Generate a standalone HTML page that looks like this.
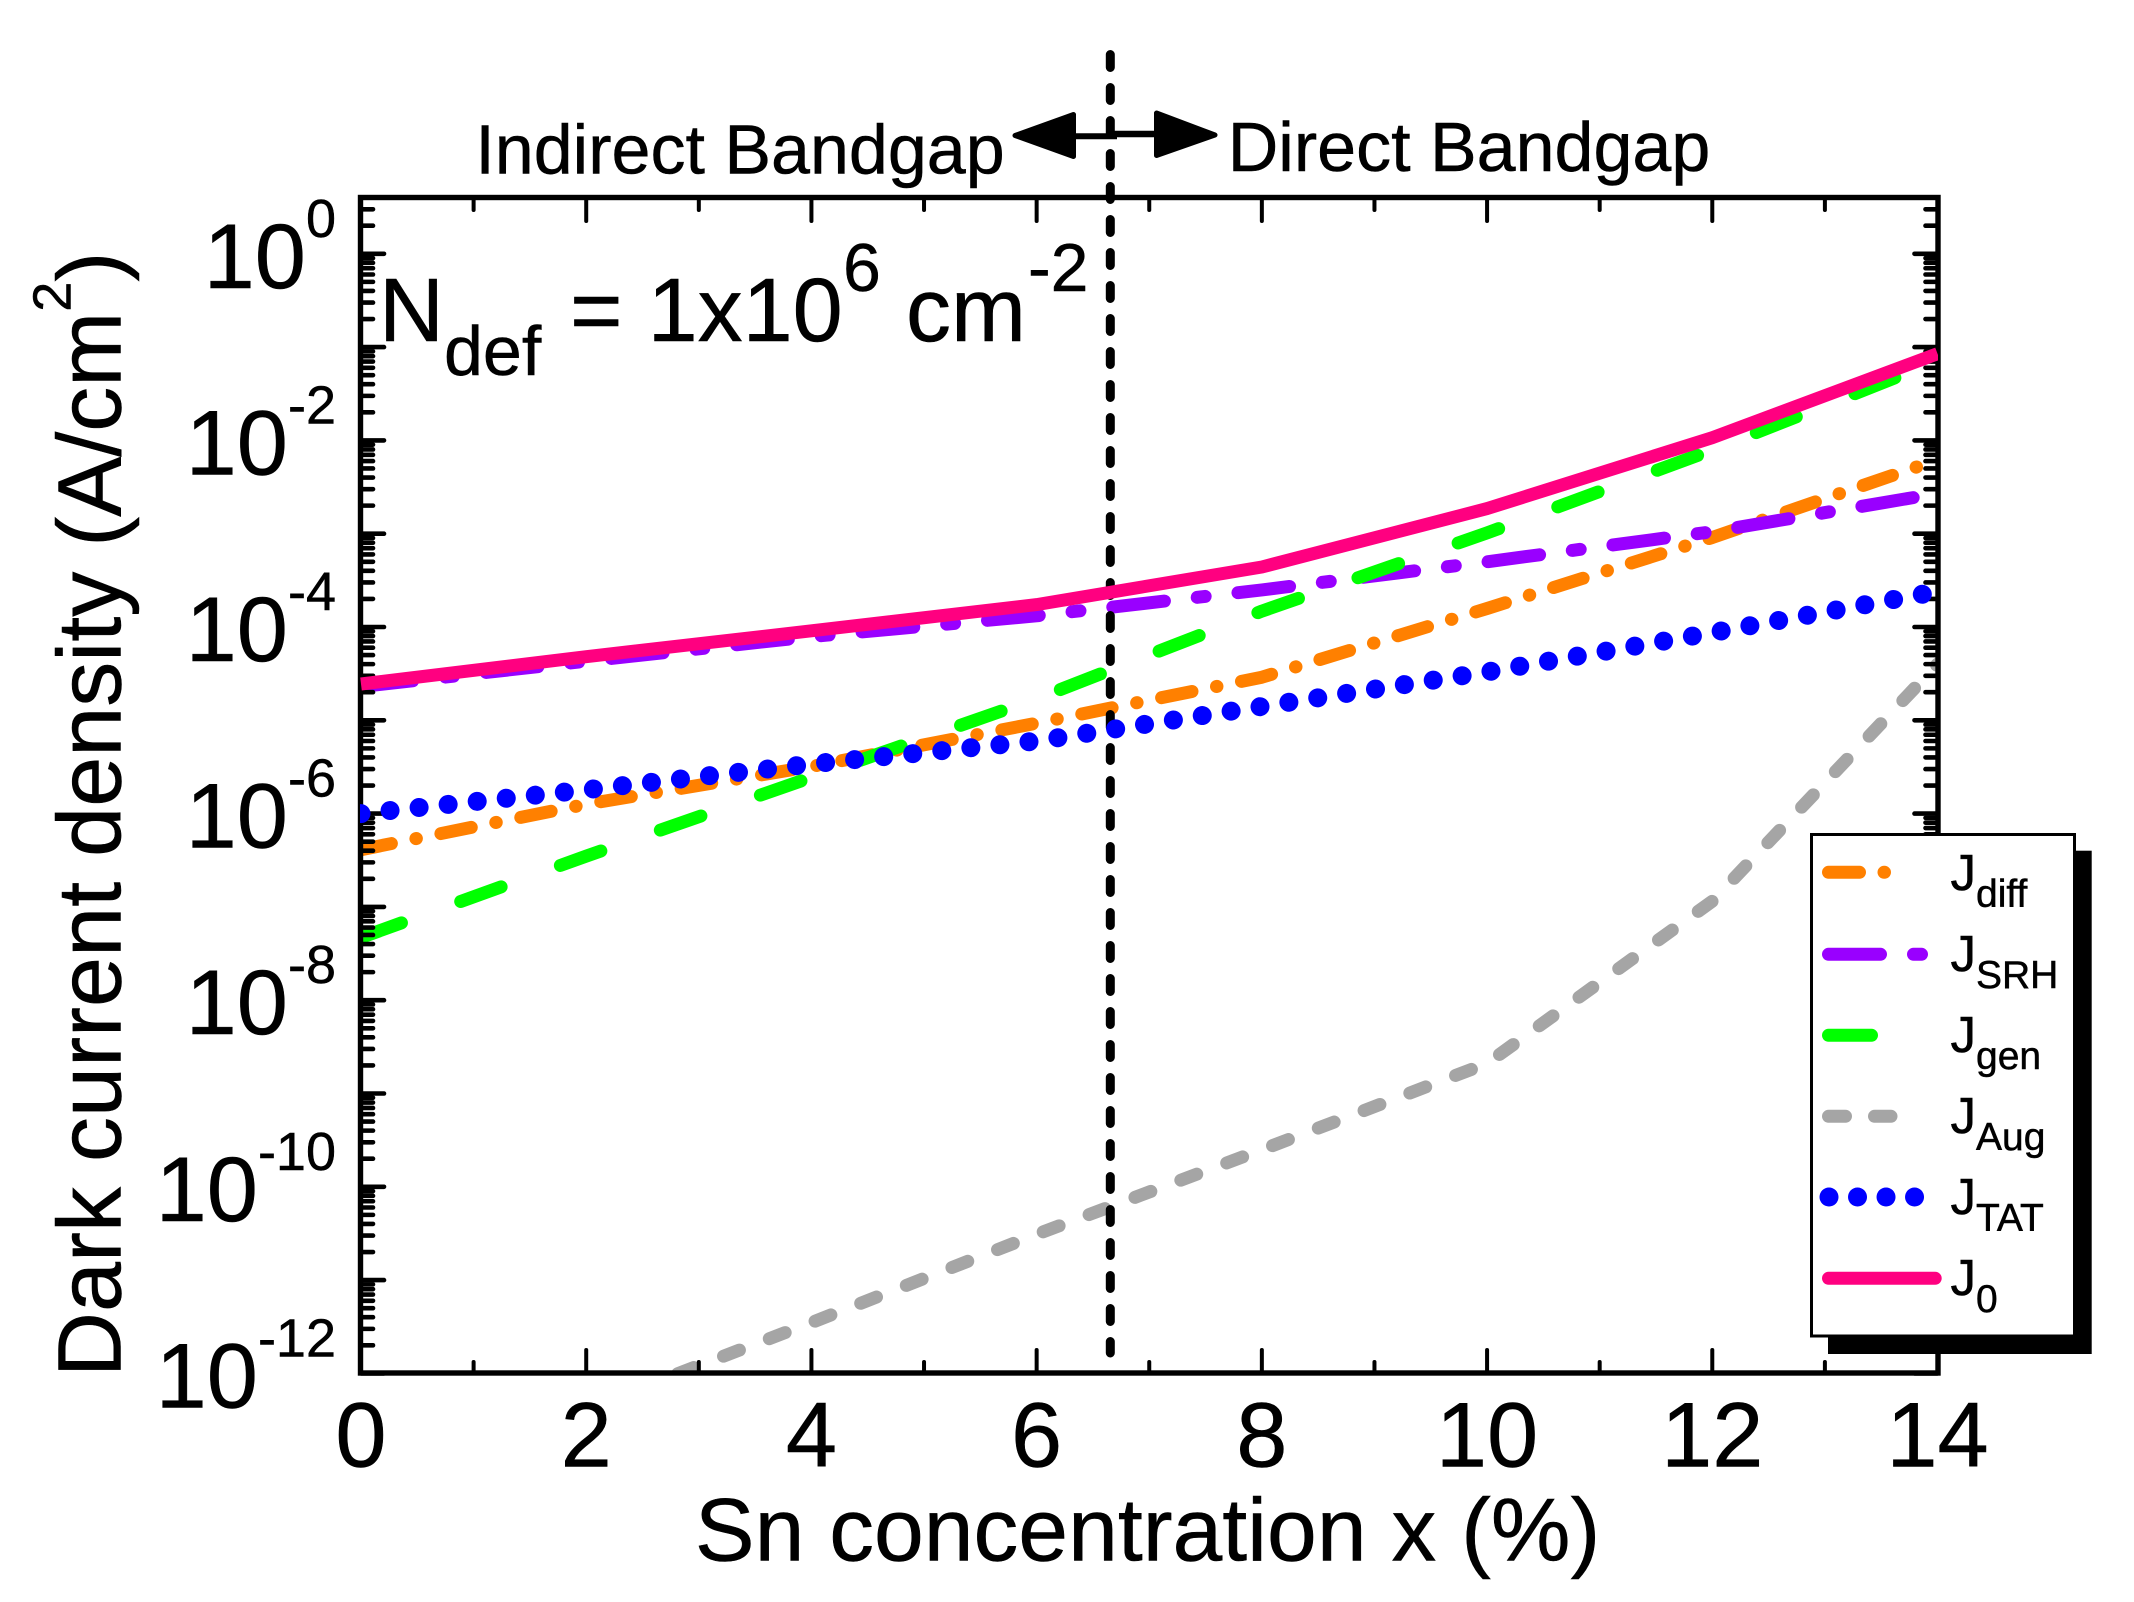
<!DOCTYPE html>
<html lang="en">
<head>
<meta charset="utf-8">
<title>Dark current density vs Sn concentration</title>
<style>
html,body{margin:0;padding:0;background:#fff;}
svg{display:block;}
text{font-family:"Liberation Sans",Arial,sans-serif;fill:#000;stroke:#000;stroke-width:.5px;}
</style>
</head>
<body>
<svg id="chart" xmlns="http://www.w3.org/2000/svg" width="2134" height="1602" viewBox="0 0 2134 1602">
  <defs>
    <clipPath id="plot-clip"><rect x="360" y="197" width="1578" height="1176"/></clipPath>
  </defs>
  <rect x="0" y="0" width="2134" height="1602" fill="#fff"/>
  <g id="series-under" clip-path="url(#plot-clip)"></g>
  <g id="ticks"></g>
  <rect x="360.5" y="197.5" width="1577.5" height="1175.5" fill="none" stroke="#000" stroke-width="5.4"/>
  <line x1="1110.3" y1="54.5" x2="1110.3" y2="1353" stroke="#000" stroke-width="9" stroke-linecap="round" stroke-dasharray="13 20"/>
  <g id="series-over" clip-path="url(#plot-clip)"></g>
  <g id="tick-labels"></g>

  <text x="1147.6" y="1560.5" font-size="89.5" text-anchor="middle">Sn concentration x (%)</text>
  <text transform="translate(120.6 1377) rotate(-90)" font-size="90">Dark current density (A/cm<tspan font-size="54" dy="-50">2</tspan><tspan dy="50">)</tspan></text>

  <text x="740" y="173.5" font-size="70" text-anchor="middle">Indirect Bandgap</text>
  <text x="1469" y="171" font-size="70" text-anchor="middle">Direct Bandgap</text>
  <g>
    <line x1="1072" y1="136.3" x2="1117" y2="136.3" stroke="#000" stroke-width="6"/>
    <line x1="1110" y1="134" x2="1158" y2="134" stroke="#000" stroke-width="6.5"/>
    <polygon points="1015,135.5 1073.5,114.5 1073.5,156.5" fill="#000" stroke="#000" stroke-width="5" stroke-linejoin="round"/>
    <polygon points="1215,135 1156.5,113 1156.5,155.5" fill="#000" stroke="#000" stroke-width="5" stroke-linejoin="round"/>
  </g>

  <text font-size="90">
    <tspan x="379" y="341">N</tspan><tspan x="444" y="375" font-size="70">def</tspan><tspan x="570" y="341">= 1x10</tspan><tspan x="843" y="291" font-size="68">6</tspan><tspan x="906" y="341">cm</tspan><tspan x="1028" y="291" font-size="68">-2</tspan>
  </text>

  <g>
    <rect x="1828" y="850.7" width="263.7" height="503.3" fill="#000"/>
    <rect x="1811.5" y="834.5" width="263" height="501.5" fill="#fff" stroke="#000" stroke-width="3"/>

    <line x1="1828.5" y1="872.3" x2="1884.5" y2="872.3" stroke="#ff8000" stroke-width="13" stroke-linecap="round" stroke-dasharray="31 24.5 0.5 25"/>
    <text font-size="51"><tspan x="1950.5" y="890">J</tspan><tspan x="1976" y="907" font-size="39">diff</tspan></text>

    <line x1="1828.5" y1="954.3" x2="1921.5" y2="954.3" stroke="#9900ff" stroke-width="13" stroke-linecap="round" stroke-dasharray="52 33 8 33"/>
    <text font-size="51"><tspan x="1950.5" y="971">J</tspan><tspan x="1976" y="988" font-size="39">SRH</tspan></text>

    <line x1="1828.5" y1="1035.3" x2="1871.5" y2="1035.3" stroke="#00ff00" stroke-width="13" stroke-linecap="round"/>
    <text font-size="51"><tspan x="1950.5" y="1052">J</tspan><tspan x="1976" y="1069" font-size="39">gen</tspan></text>

    <line x1="1828.5" y1="1116.3" x2="1891" y2="1116.3" stroke="#a5a5a5" stroke-width="13" stroke-linecap="round" stroke-dasharray="17 29"/>
    <text font-size="51"><tspan x="1950.5" y="1133">J</tspan><tspan x="1976" y="1150" font-size="39">Aug</tspan></text>

    <line x1="1829" y1="1197" x2="1915" y2="1197" stroke="#0000ff" stroke-width="19" stroke-linecap="round" stroke-dasharray="0.01 28.5"/>
    <text font-size="51"><tspan x="1950.5" y="1214">J</tspan><tspan x="1976" y="1231" font-size="39">TAT</tspan></text>

    <line x1="1828.5" y1="1278.3" x2="1935.2" y2="1278.3" stroke="#ff0080" stroke-width="13" stroke-linecap="round"/>
    <text font-size="51"><tspan x="1950.5" y="1295">J</tspan><tspan x="1976" y="1312" font-size="39">0</tspan></text>
  </g>
</svg>

<script>
// ---- chart data ----
const snConcentration = [0, 2, 4, 6, 8, 10, 12, 14];
const jDiff = [4.1e-7, 1.26e-6, 3.2e-6, 9.3e-6, 2.9e-5, 1.58e-4, 9.1e-4, 6.2e-3];
const jSRH  = [2.3e-5, 4.3e-5, 7.9e-5, 1.32e-4, 2.5e-4, 5.0e-4, 1.05e-3, 2.7e-3];
const jGen  = [4.7e-8, 3.5e-7, 2.45e-6, 1.7e-5, 1.48e-4, 1.02e-3, 7.9e-3, 7.1e-2];
const jAugX = [2, 4, 6, 8, 10, 12, 14];
const jAug  = [4.2e-13, 3.5e-12, 3.1e-11, 2.5e-10, 2.1e-9, 1.15e-7, 4.0e-5];
const jTAT  = [1.0e-6, 1.8e-6, 3.4e-6, 6.0e-6, 1.41e-5, 3.3e-5, 8.7e-5, 2.4e-4];
const jTotal = [2.45e-5, 4.8e-5, 9.1e-5, 1.74e-4, 4.4e-4, 1.86e-3, 1.07e-2, 8.5e-2];
const xTickLabels = [0, 2, 4, 6, 8, 10, 12, 14];
const xMinorTicks = [1, 3, 5, 7, 9, 11, 13];
const yTickExponents = [0, -2, -4, -6, -8, -10, -12];

// ---- axis functions ----
const SVG_NS = 'http://www.w3.org/2000/svg';
function xScale(v) { return 361 + v * (1576.5 / 14); }
function yScale(v) { return 1373.4 - (Math.log10(v) + 12) * 93.3; }

function pathFor(xs, ys) {
  return xs.map(function (x, i) {
    return (i ? 'L' : 'M') + xScale(x).toFixed(1) + ' ' + yScale(ys[i]).toFixed(1);
  }).join(' ');
}

function drawSeries(parent, name, xs, ys, color, width, dash) {
  const el = document.createElementNS(SVG_NS, 'path');
  
  
  el.setAttribute('d', pathFor(xs, ys));
  el.setAttribute('fill', 'none');
  el.setAttribute('stroke', color);
  el.setAttribute('stroke-width', width);
  el.setAttribute('stroke-linecap', dash ? 'round' : 'butt');
  el.setAttribute('stroke-linejoin', 'round');
  if (dash) el.setAttribute('stroke-dasharray', dash);
  parent.appendChild(el);
}

function drawTick(parent, name, x1, y1, x2, y2, width) {
  const el = document.createElementNS(SVG_NS, 'line');
  
  
  el.setAttribute('x1', x1);
  el.setAttribute('y1', y1);
  el.setAttribute('x2', x2);
  el.setAttribute('y2', y2);
  el.setAttribute('stroke', '#000');
  el.setAttribute('stroke-width', width);
  el.setAttribute('stroke-linecap', 'round');
  parent.appendChild(el);
}

// ---- series ----
const under = document.getElementById('series-under');
const over = document.getElementById('series-over');
drawSeries(under, 'series-jdiff', snConcentration, jDiff, '#ff8000', 13, '31 25 0.5 25');
drawSeries(under, 'series-jsrh', snConcentration, jSRH, '#9900ff', 13, '52 33 8 33');
drawSeries(under, 'series-jgen', snConcentration, jGen, '#00ff00', 13, '43 63');
drawSeries(under, 'series-jaug', jAugX, jAug, '#a5a5a5', 13, '17 32');
drawSeries(over, 'series-jtat', snConcentration, jTAT, '#0000ff', 19, '0.01 29.2');
drawSeries(over, 'series-j0', snConcentration, jTotal, '#ff0080', 13, null);

// ---- ticks ----
const ticks = document.getElementById('ticks');
xTickLabels.forEach(function (v) {
  const x = xScale(v);
  drawTick(ticks, 'x-major-tick-bottom', x, 1373, x, 1350, 4);
  drawTick(ticks, 'x-major-tick-top', x, 197, x, 221, 4);
});
xMinorTicks.forEach(function (v) {
  const x = xScale(v);
  drawTick(ticks, 'x-minor-tick-bottom', x, 1373, x, 1362, 4);
  drawTick(ticks, 'x-minor-tick-top', x, 197, x, 210, 4);
});
for (let e = -12; e <= 0; e++) {
  for (let k = 1; k <= 9; k++) {
    const y = yScale(k * Math.pow(10, e));
    if (y < 199) continue;
    const len = k === 1 ? 23 : 12;
    drawTick(ticks, k === 1 ? 'y-major-tick-left' : 'y-minor-tick-left', 361, y, 361 + len, y, 4.6);
    drawTick(ticks, k === 1 ? 'y-major-tick-right' : 'y-minor-tick-right', 1937.5, y, 1937.5 - len, y, 4.6);
  }
}

// ---- tick labels ----
const labels = document.getElementById('tick-labels');
xTickLabels.forEach(function (v) {
  const t = document.createElementNS(SVG_NS, 'text');
  
  
  t.setAttribute('x', xScale(v));
  t.setAttribute('y', 1466.5);
  t.setAttribute('font-size', '92');
  t.setAttribute('text-anchor', 'middle');
  t.textContent = String(v);
  labels.appendChild(t);
});
yTickExponents.forEach(function (exp) {
  const t = document.createElementNS(SVG_NS, 'text');
  
  
  t.setAttribute('x', 336);
  t.setAttribute('y', yScale(Math.pow(10, exp)) + 34);
  t.setAttribute('font-size', '92');
  t.setAttribute('text-anchor', 'end');
  const base = document.createElementNS(SVG_NS, 'tspan');
  base.textContent = '10';
  const sup = document.createElementNS(SVG_NS, 'tspan');
  sup.setAttribute('font-size', '54');
  sup.setAttribute('dy', '-51');
  sup.textContent = String(exp);
  t.appendChild(base);
  t.appendChild(sup);
  labels.appendChild(t);
});
</script>
</body>
</html>
